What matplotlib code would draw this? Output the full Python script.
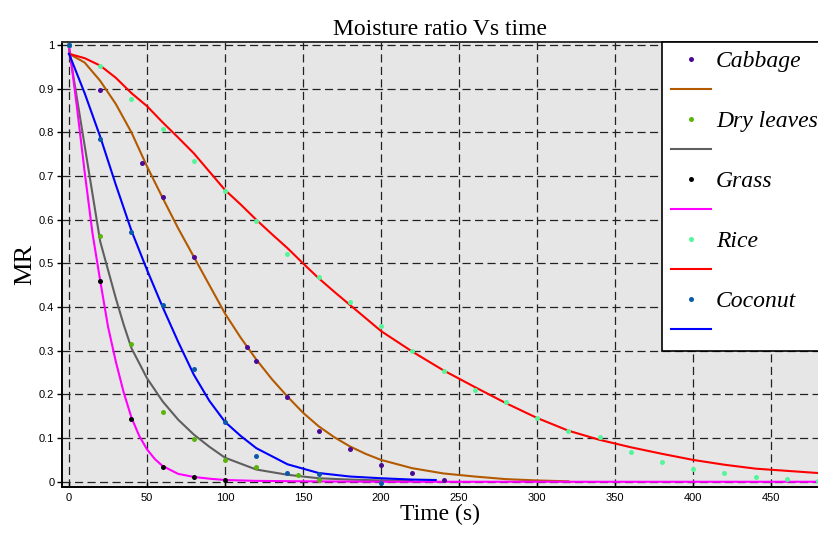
"""Moisture ratio vs time: measured points and fitted drying curves."""

import matplotlib

matplotlib.use("Agg")
import matplotlib.pyplot as plt
from matplotlib.lines import Line2D

# measured moisture ratio
cabbage_t = [0, 20, 47, 60, 80, 114, 120, 140, 160, 180, 200, 220, 240]
cabbage_mr = [1.0, 0.897, 0.73, 0.652, 0.515, 0.309, 0.277, 0.193, 0.117, 0.074, 0.039, 0.019, 0.005]

leaves_t = [0, 20, 40, 60, 80, 100, 120, 147, 160]
leaves_mr = [1.0, 0.563, 0.316, 0.159, 0.098, 0.049, 0.033, 0.015, 0.005]

grass_t = [0, 20, 40, 60, 80, 100]
grass_mr = [1.0, 0.46, 0.143, 0.034, 0.012, 0.003]

rice_t = [0, 20, 40, 60, 80, 100, 120, 140, 160, 180, 200, 220, 240, 260, 280, 300,
          320, 340, 360, 380, 400, 420, 440, 460, 480]
rice_mr = [1.0, 0.952, 0.876, 0.808, 0.735, 0.666, 0.597, 0.522, 0.469, 0.412, 0.356,
           0.3, 0.254, 0.21, 0.182, 0.146, 0.116, 0.102, 0.069, 0.046, 0.03, 0.021,
           0.011, 0.007, 0.002]

coconut_t = [0, 20, 40, 60, 80, 100, 120, 140, 160, 200]
coconut_mr = [1.0, 0.786, 0.572, 0.404, 0.258, 0.136, 0.06, 0.021, 0.017, -0.003]

# fitted curves
cabbage_fit_t = [0, 10, 20, 30, 40, 50, 60, 70, 80, 90, 100, 110, 120, 130, 140, 150,
                 160, 170, 180, 190, 200, 220, 240, 260, 280, 300, 320]
cabbage_fit = [0.98, 0.96, 0.918, 0.865, 0.8, 0.722, 0.65, 0.58, 0.515, 0.45, 0.385,
               0.33, 0.28, 0.235, 0.195, 0.158, 0.127, 0.102, 0.081, 0.064, 0.05,
               0.031, 0.019, 0.012, 0.006, 0.003, 0.001]

leaves_fit_t = [0, 5, 10, 15, 20, 25, 30, 35, 40, 50, 60, 70, 80, 90, 100, 120, 140,
                160, 180, 200, 220]
leaves_fit = [0.99, 0.88, 0.77, 0.66, 0.55, 0.485, 0.42, 0.36, 0.306, 0.237, 0.184,
              0.142, 0.108, 0.08, 0.055, 0.028, 0.016, 0.008, 0.005, 0.003, 0.002]

grass_fit_t = [0, 5, 10, 15, 20, 25, 30, 35, 40, 45, 50, 55, 60, 70, 80, 90, 100, 120,
               150, 200, 480]
grass_fit = [1.0, 0.86, 0.71, 0.57, 0.46, 0.355, 0.275, 0.205, 0.147, 0.105, 0.074,
             0.052, 0.036, 0.018, 0.011, 0.007, 0.004, 0.002, 0.001, 0.0, 0.0]

rice_fit_t = [0, 10, 20, 30, 40, 50, 60, 70, 80, 90, 100, 110, 120, 130, 140, 150, 160,
              170, 180, 190, 200, 220, 240, 260, 280, 300, 320, 340, 360, 380, 400,
              420, 440, 460, 480]
rice_fit = [0.98, 0.97, 0.953, 0.925, 0.89, 0.86, 0.823, 0.788, 0.752, 0.71, 0.668,
            0.635, 0.6, 0.567, 0.535, 0.5, 0.466, 0.435, 0.405, 0.375, 0.345, 0.298,
            0.255, 0.217, 0.18, 0.146, 0.117, 0.096, 0.079, 0.064, 0.05, 0.039, 0.03,
            0.025, 0.02]

coconut_fit_t = [0, 10, 20, 30, 40, 50, 60, 70, 80, 90, 100, 110, 120, 140, 160, 180,
                 200, 220, 235]
coconut_fit = [0.98, 0.89, 0.79, 0.68, 0.575, 0.485, 0.4, 0.32, 0.245, 0.185, 0.137,
               0.105, 0.077, 0.04, 0.02, 0.012, 0.008, 0.005, 0.004]

SERIES = [
    ("Cabbage", cabbage_t, cabbage_mr, cabbage_fit_t, cabbage_fit, "#4B0A96", "#B35A00"),
    ("Dry leaves", leaves_t, leaves_mr, leaves_fit_t, leaves_fit, "#5AB40A", "#5F5F5F"),
    ("Grass", grass_t, grass_mr, grass_fit_t, grass_fit, "#000000", "#FF00FF"),
    ("Rice", rice_t, rice_mr, rice_fit_t, rice_fit, "#55F59A", "#FF0000"),
    ("Coconut", coconut_t, coconut_mr, coconut_fit_t, coconut_fit, "#0A5AAA", "#0000FF"),
]

fig = plt.figure(figsize=(8.18, 5.33), dpi=100)
ax = fig.add_axes([62 / 818, 1 - 487 / 533, 756 / 818, 445 / 533])
ax.set_facecolor("#E6E6E6")

handles = []
labels = []
for name, t, mr, ft, fit, dot_color, line_color in SERIES:
    ax.plot(ft, fit, color=line_color, linewidth=1.5, zorder=3)
    ax.plot(t, mr, "o", color=dot_color, markersize=3.6, markeredgewidth=0, zorder=4)
    handles.append(Line2D([], [], linestyle="none", marker="o", markersize=3.6,
                          markeredgewidth=0, color=dot_color))
    labels.append(name)
    handles.append(Line2D([], [], color=line_color, linewidth=1.5))
    labels.append(" ")

ax.set_xlim(-4.5, 480)
ax.set_ylim(-0.012, 1.007)
ax.set_xticks(range(0, 451, 50))
ax.set_yticks([i / 10 for i in range(11)])
ax.set_yticklabels(["0"] + [f"{i / 10:.1f}" for i in range(1, 10)] + ["1"])
ax.grid(True, color="#222222", linestyle=(0, (6.5, 3.5)), linewidth=0.9)
ax.set_axisbelow(True)

for lab in ax.get_xticklabels() + ax.get_yticklabels():
    lab.set_fontfamily("Liberation Sans")
    lab.set_fontsize(8)
ax.tick_params(axis="y", direction="out", length=3.5, width=1, pad=2)
ax.tick_params(axis="x", direction="in", length=3.5, width=1, pad=4)
ax.spines["right"].set_visible(False)
ax.spines["top"].set_color("#333333")
for side in ("left", "bottom", "top"):
    ax.spines[side].set_linewidth(1.4)

ax.set_title("Moisture ratio Vs time", family="Liberation Serif", fontsize=17, pad=5)
ax.set_xlabel("Time (s)", family="Liberation Serif", fontsize=17, labelpad=1)
ax.set_ylabel("MR", family="Liberation Serif", fontsize=19, labelpad=2)

legend = ax.legend(
    handles,
    labels,
    loc="upper left",
    bbox_to_anchor=(0.7937, 1.0),
    borderaxespad=0,
    prop={"family": "Liberation Serif", "style": "italic", "size": 17},
    handlelength=1.7,
    handletextpad=0.22,
    labelspacing=0.36,
    borderpad=0.36,
    fancybox=False,
    framealpha=1,
    edgecolor="black",
)
legend.get_frame().set_linewidth(1.2)
legend.set_zorder(10)

fig.savefig("out.png", dpi=100)
